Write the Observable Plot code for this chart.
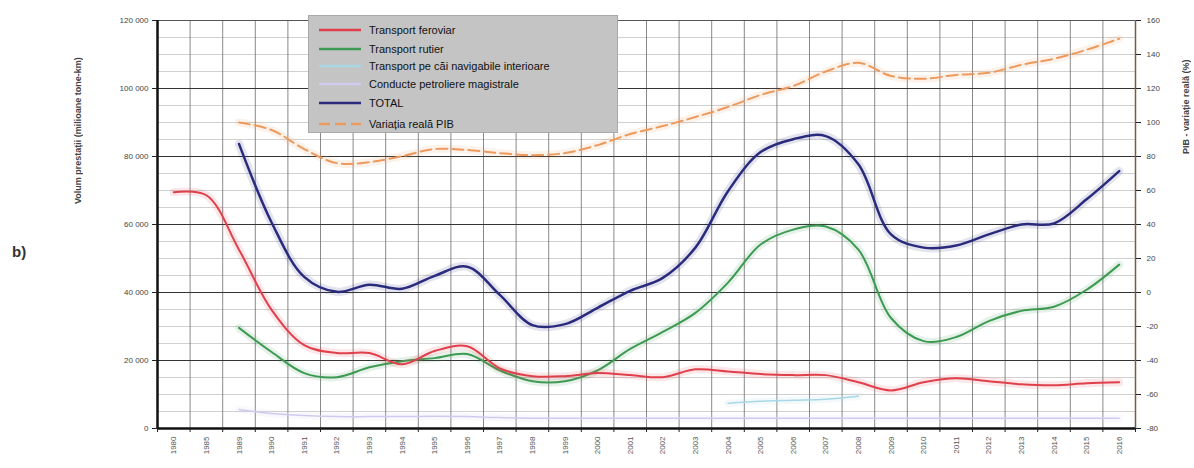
<!DOCTYPE html>
<html><head><meta charset="utf-8">
<script src="https://cdn.jsdelivr.net/npm/d3@7"></script>
<script src="https://cdn.jsdelivr.net/npm/@observablehq/plot@0.6"></script>
<style>
body{margin:0;background:#fff;font-family:"Liberation Sans",Arial,sans-serif;}
#wrap{position:relative;width:1194px;height:468px;overflow:hidden;}
#legend{position:absolute;left:308px;top:15px;width:310px;height:118px;background:#c4c4c4;border:1px solid #a9a9a9;box-sizing:border-box;}
.row{position:absolute;left:8px;height:16px;display:flex;align-items:center;font-size:11px;color:#111;white-space:nowrap;}
.row svg{margin-right:6px;}
#blabel{position:absolute;left:12px;top:243px;font-size:15px;font-weight:bold;color:#333;}
.vt{position:absolute;writing-mode:vertical-rl;transform:rotate(180deg);font-size:9px;font-weight:bold;color:#444;white-space:nowrap;}
</style></head><body>
<div id="wrap"><div id="chart"></div><div id="legend"></div><div id="blabel">b)</div>
<div class="vt" id="ltitle" style="left:73px;top:22px;height:182px;text-align:left;">Volum prestații (milioane tone-km)</div>
<div class="vt" id="rtitle" style="left:1181px;top:17px;height:137px;text-align:left;">PIB - variație reală (%)</div>
</div>
<script>
const years = ["1980","1985","1989","1990","1991","1992","1993","1994","1995","1996","1997","1998","1999","2000","2001","2002","2003","2004","2005","2006","2007","2008","2009","2010","2011","2012","2013","2014","2015","2016"];
const feroviar = [69500,68600,52600,34900,24500,22200,22200,18900,22800,24200,17700,15400,15400,16300,15700,15100,17400,16800,16000,15700,15700,13600,11200,13600,14800,13900,13000,12700,13300,13600];
const rutier = [null,null,29600,22500,16300,15100,18000,19800,20700,21900,17100,13900,13900,17100,23400,28400,34000,42900,54100,58500,59400,52600,32500,25700,26900,31600,34600,35800,40800,48200];
const navigabil = [null,null,null,null,null,null,null,null,null,null,null,null,null,null,null,null,null,7400,8000,8300,8600,9500,null,null,null,null,null,null,null,null];
const conducte = [null,null,5600,4400,3800,3500,3500,3500,3600,3500,3200,3000,3000,3000,3000,3000,3000,3000,3000,3000,3000,3000,3000,3000,3000,3000,3000,3000,3000,3000];
const total = [null,null,83700,60600,44600,40200,42300,41100,44900,47600,39300,30400,30700,35500,40500,44300,53200,69800,81300,85100,86000,77700,57100,53200,53800,57100,60000,60300,67400,75700];
const pib = [null,null,100,95.6,84.4,76.1,76.7,80.2,84.4,83.8,82,80.8,82,86.7,93.2,97.9,103.2,109.1,116.2,121.5,130,135.1,127.4,125.7,128,129.2,133.9,137.5,142.8,149.3];
const leftTicks = [0,20000,40000,60000,80000,100000,120000];
const rightTicks = [-80,-60,-40,-20,0,20,40,60,80,100,120,140,160];
const seriesNames = ["Transport feroviar","Transport rutier","Transport pe căi navigabile interioare","Conducte petroliere magistrale","TOTAL","Variația reală PIB"];
const colors = ["#e0404c","#3d9a52","#a8d8e6","#cfcbef","#2b2b7e","#ec9a5e"];

const yMax = 120000, rMin = -80, rMax = 160;
const toLeft = v => v == null ? null : (v - rMin) / (rMax - rMin) * yMax;
const rows = arr => years.map((y, i) => ({i, v: arr[i]}));
const pibRows = years.map((y, i) => ({i, v: toLeft(pib[i])}));
const n = years.length;
const fmt = d => d3.format(",")(d).replace(/,/g, " ");

function lineWithGlow(data, color, w, extra = {}) {
  return [
    Plot.line(data, {x: "i", y: "v", stroke: color, strokeWidth: w + 6, strokeOpacity: 0.13, curve: "catmull-rom", ...extra}),
    Plot.line(data, {x: "i", y: "v", stroke: color, strokeWidth: w, curve: "catmull-rom", ...extra})
  ];
}

const chart = Plot.plot({
  width: 1194, height: 468,
  marginLeft: 157, marginRight: 59, marginTop: 20, marginBottom: 40,
  style: {fontFamily: "Liberation Sans, Arial, sans-serif", fontSize: "8px", color: "#555", background: "#fff"},
  x: {domain: [-0.5, n - 0.5], label: null},
  y: {domain: [0, yMax], label: null},
  marks: [
    Plot.gridY(d3.range(0, yMax + 1, 5000), {stroke: "#b0b0b0", strokeOpacity: 1, strokeWidth: 0.6}),
    Plot.gridX(d3.range(-0.5, n, 1), {stroke: "#6a6a6a", strokeOpacity: 1, strokeWidth: 0.8}),
    Plot.gridY(leftTicks, {stroke: "#333", strokeOpacity: 1, strokeWidth: 1}),
    ...lineWithGlow(rows(conducte), colors[3], 1.5),
    ...lineWithGlow(rows(navigabil), colors[2], 1.5),
    ...lineWithGlow(pibRows, colors[5], 2, {strokeDasharray: "11,5"}),
    ...lineWithGlow(rows(rutier), colors[1], 2),
    ...lineWithGlow(rows(feroviar), colors[0], 2),
    ...lineWithGlow(rows(total), colors[4], 2.5),
    Plot.ruleY([yMax], {stroke: "#555", strokeWidth: 1}),
    Plot.ruleX([n - 0.5], {stroke: "#7a5a44", strokeWidth: 1.5}),
    Plot.ruleX([-0.5], {stroke: "#111", strokeWidth: 2.5}),
    Plot.ruleY([0], {stroke: "#111", strokeWidth: 2.5}),
    Plot.axisY({anchor: "left", label: null, ticks: leftTicks, tickFormat: fmt, tickSize: 5, tickPadding: 4, stroke: "#222", fill: "#444"}),
    Plot.axisY({anchor: "right", label: null, ticks: rightTicks.map(toLeft), tickFormat: d => String(Math.round(d / yMax * (rMax - rMin) + rMin)), tickSize: 5, tickPadding: 6, stroke: "#222", fill: "#444"}),
    Plot.axisX({label: null, ticks: d3.range(-0.5, n, 1), tickFormat: () => "", tickSize: 4, stroke: "#222"}),
    Plot.axisX({label: null, ticks: d3.range(0, n), tickFormat: i => years[i], tickSize: 0, tickRotate: -90, tickPadding: 8, fill: "#555"})
  ]
});
document.getElementById("chart").appendChild(chart);

const lg = document.getElementById("legend");
const rowTops = [6, 25, 42, 60, 79, 100];
seriesNames.forEach((name, k) => {
  const r = document.createElement("div");
  r.className = "row";
  r.style.top = rowTops[k] + "px";
  const dash = k === 5 ? 'stroke-dasharray="11,5"' : "";
  r.innerHTML = `<svg width="46" height="10"><line x1="2" y1="5" x2="44" y2="5" stroke="${colors[k]}" stroke-width="2.5" ${dash}/></svg><span>${name}</span>`;
  lg.appendChild(r);
});
</script>
</body></html>
